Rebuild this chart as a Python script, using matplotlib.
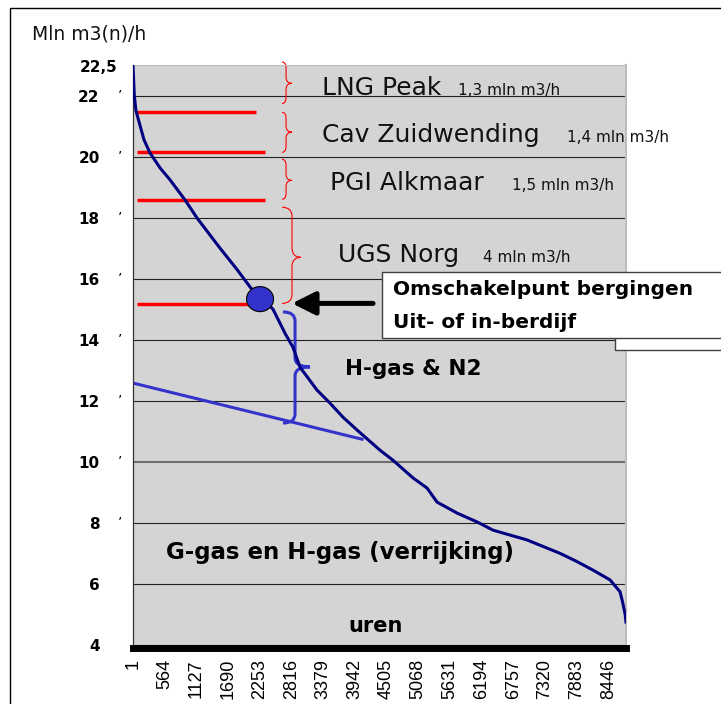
import matplotlib
matplotlib.use('Agg')
import matplotlib.pyplot as plt
from matplotlib.patches import Ellipse, Rectangle, PathPatch
from matplotlib.path import Path

# belastingduurkromme: uren (gesorteerd) en debiet in mln m3(n)/h
uren = [1, 15, 24, 54, 196, 303, 481, 658, 925, 1138, 1369, 1547, 1849, 2080, 2258,
        2418, 2488, 2702, 2844, 2968, 3270, 3502, 3733, 3982, 4390, 4621, 4977, 5225,
        5403, 5759, 6114, 6398, 7002, 7589, 7891, 8175, 8477, 8655, 8700, 8745, 8760]
debiet = [22.95, 22.4, 22.0, 21.5, 20.55, 20.12, 19.63, 19.24, 18.58, 17.99, 17.43,
          17.0, 16.3, 15.73, 15.35, 15.13, 15.0, 14.21, 13.75, 13.1, 12.35, 11.92,
          11.46, 11.04, 10.38, 10.05, 9.47, 9.14, 8.68, 8.32, 8.03, 7.76, 7.44, 7.0,
          6.73, 6.45, 6.13, 5.74, 5.4, 5.0, 4.75]

x_ticks = list(range(1, 8760, 563))
y_ticks = [4, 6, 8, 10, 12, 14, 16, 18, 20, 22]

# bergingen
berging_naam = ['LNG Peak', 'Cav Zuidwending', 'PGI Alkmaar', 'UGS Norg']
berging_cap = ['1,3 mln m3/h', '1,4 mln m3/h', '1,5 mln m3/h', '4 mln m3/h']
rood_niveau = [21.45, 20.15, 18.57, 15.18]
rood_eind = [2186, 2347, 2347, 2347]
accolade_boven = [23.1, 21.45, 19.91, 18.34]
accolade_onder = [21.74, 20.14, 18.6, 15.19]
accolade_punt = [22.4, 20.8, 19.22, 16.7]

# H-gas & N2 lijn
blauw_x = [1, 4070]
blauw_y = [12.58, 10.74]

omschakel_uur = 2258
omschakel_debiet = 15.33

BLAUW = '#3333cc'


def brace(ax, x_end, x_mid, x_tip, y_lo, y_hi, y_tip, r, **kw):
    verts = [(x_end, y_hi), (x_mid, y_hi), (x_mid, y_hi - r),
             (x_mid, y_tip + r), (x_mid, y_tip), (x_tip, y_tip),
             (x_mid, y_tip), (x_mid, y_tip - r),
             (x_mid, y_lo + r), (x_mid, y_lo), (x_end, y_lo)]
    codes = [Path.MOVETO, Path.CURVE3, Path.CURVE3, Path.LINETO, Path.CURVE3,
             Path.CURVE3, Path.CURVE3, Path.CURVE3, Path.LINETO, Path.CURVE3,
             Path.CURVE3]
    ax.add_patch(PathPatch(Path(verts, codes), fill=False, clip_on=False, **kw))


plt.rcParams['font.family'] = ['DejaVu Sans']

fig = plt.figure(figsize=(7.21, 7.04), dpi=100)
ax = fig.add_axes([133 / 721, 56 / 704, 493 / 721, 583 / 704])
ax.set_facecolor('#d4d4d4')
ax.set_xlim(1, 8760)
ax.set_ylim(3.9, 23)

ax.yaxis.grid(True, color='#222222', lw=0.8)
ax.set_axisbelow(True)
for gl, v in zip(ax.get_ygridlines(), y_ticks):
    if v == 10:
        gl.set_color('#6e6e6e')
        gl.set_linewidth(1.5)

ax.plot(uren, debiet, color='#000080', lw=2.2, zorder=3)

for lvl, xe in zip(rood_niveau, rood_eind):
    ax.plot([72, xe], [lvl, lvl], color='red', lw=2.5, solid_capstyle='butt', zorder=2)

ax.plot(blauw_x, blauw_y, color=BLAUW, lw=2.2, zorder=2)

for i in range(4):
    if i < 3:
        brace(ax, 2649, 2720, 2826, accolade_onder[i], accolade_boven[i], accolade_punt[i],
              0.2, color='red', lw=0.8)
    else:
        brace(ax, 2649, 2826, 2986, accolade_onder[i], accolade_boven[i], accolade_punt[i],
              0.3, color='red', lw=0.8)

brace(ax, 2666, 2880, 3146, 11.27, 14.91, 13.11, 0.3, color=BLAUW, lw=2.2)

ax.add_patch(Ellipse((omschakel_uur, omschakel_debiet), width=480, height=0.82,
                     facecolor=BLAUW, edgecolor='black', lw=0.8, zorder=5))

ax.annotate('', xy=(2826, 15.19), xytext=(4266, 15.19),
            arrowprops=dict(arrowstyle='-|>,head_length=0.7,head_width=0.35',
                            mutation_scale=20, lw=3.6, color='black',
                            shrinkA=0, shrinkB=0))

# teksten bij de bergingen
naam_x = [3360, 3360, 3501, 3643]
cap_x = [5776, 7713, 6736, 6220]
basis_y = [22.02, 20.48, 18.91, 16.55]
for i in range(4):
    ax.text(naam_x[i], basis_y[i], berging_naam[i], fontsize=18, va='baseline',
            color='#111111', zorder=4)
    ax.text(cap_x[i], basis_y[i], berging_cap[i], fontsize=11, va='baseline',
            color='#111111', zorder=4, clip_on=False)

ax.text(3768, 12.85, 'H-gas & N2', fontsize=15.5, fontweight='bold', va='baseline')
ax.text(587, 6.82, 'G-gas en H-gas (verrijking)', fontsize=16.5, fontweight='bold',
        va='baseline')
ax.text(3822, 4.43, 'uren', fontsize=15, fontweight='bold', va='baseline')

# assen
ax.set_xticks(x_ticks)
ax.set_xticklabels([str(t) for t in x_ticks], rotation=90, fontsize=13,
                   family='Liberation Sans')
ax.set_yticks(y_ticks)
ax.set_yticklabels([str(t) for t in y_ticks], fontsize=11, fontweight='bold')
ax.tick_params(axis='x', length=0, pad=8)
ax.tick_params(axis='y', length=0, pad=24)
for t in y_ticks[2:]:
    ax.annotate('\u2019', xy=(0, t), xycoords=('axes fraction', 'data'),
                xytext=(-8, 0), textcoords='offset points', ha='right', va='center',
                fontsize=10)

ax.spines['bottom'].set_linewidth(5)
ax.spines['bottom'].set_color('black')
ax.spines['left'].set_linewidth(0.9)
ax.spines['left'].set_color('#333333')
ax.spines['top'].set_color('#bdbdbd')
ax.spines['right'].set_color('#bdbdbd')
ax.spines['right'].set_linewidth(1.5)

fig.text(117 / 721, 1 - 72 / 704, '22,5', ha='right', va='baseline', fontsize=11,
         fontweight='bold')
fig.text(32 / 721, 1 - 39 / 704, 'Mln m3(n)/h', fontsize=13.5, va='baseline',
         color='#111111')

# kader en tekstvak
fig.patches.append(Rectangle((10 / 721, -0.1), 1.2, 1.1 - 8 / 704, transform=fig.transFigure,
                             fill=False, edgecolor='black', lw=1.0, zorder=1))
fig.patches.append(Rectangle((615 / 721, 1 - 350 / 704), 0.3, 70 / 704,
                             transform=fig.transFigure, facecolor='white',
                             edgecolor='#404040', lw=1.0, zorder=2))
fig.patches.append(Rectangle((382 / 721, 1 - 338 / 704), 0.6, 66 / 704,
                             transform=fig.transFigure, facecolor='white',
                             edgecolor='#404040', lw=1.0, zorder=2))
fig.text(393 / 721, 1 - 295 / 704, 'Omschakelpunt bergingen', fontsize=14.5,
         fontweight='bold', va='baseline', zorder=3)
fig.text(393 / 721, 1 - 328 / 704, 'Uit- of in-berdijf', fontsize=14.5,
         fontweight='bold', va='baseline', zorder=3)

fig.savefig('out.png', dpi=100)
